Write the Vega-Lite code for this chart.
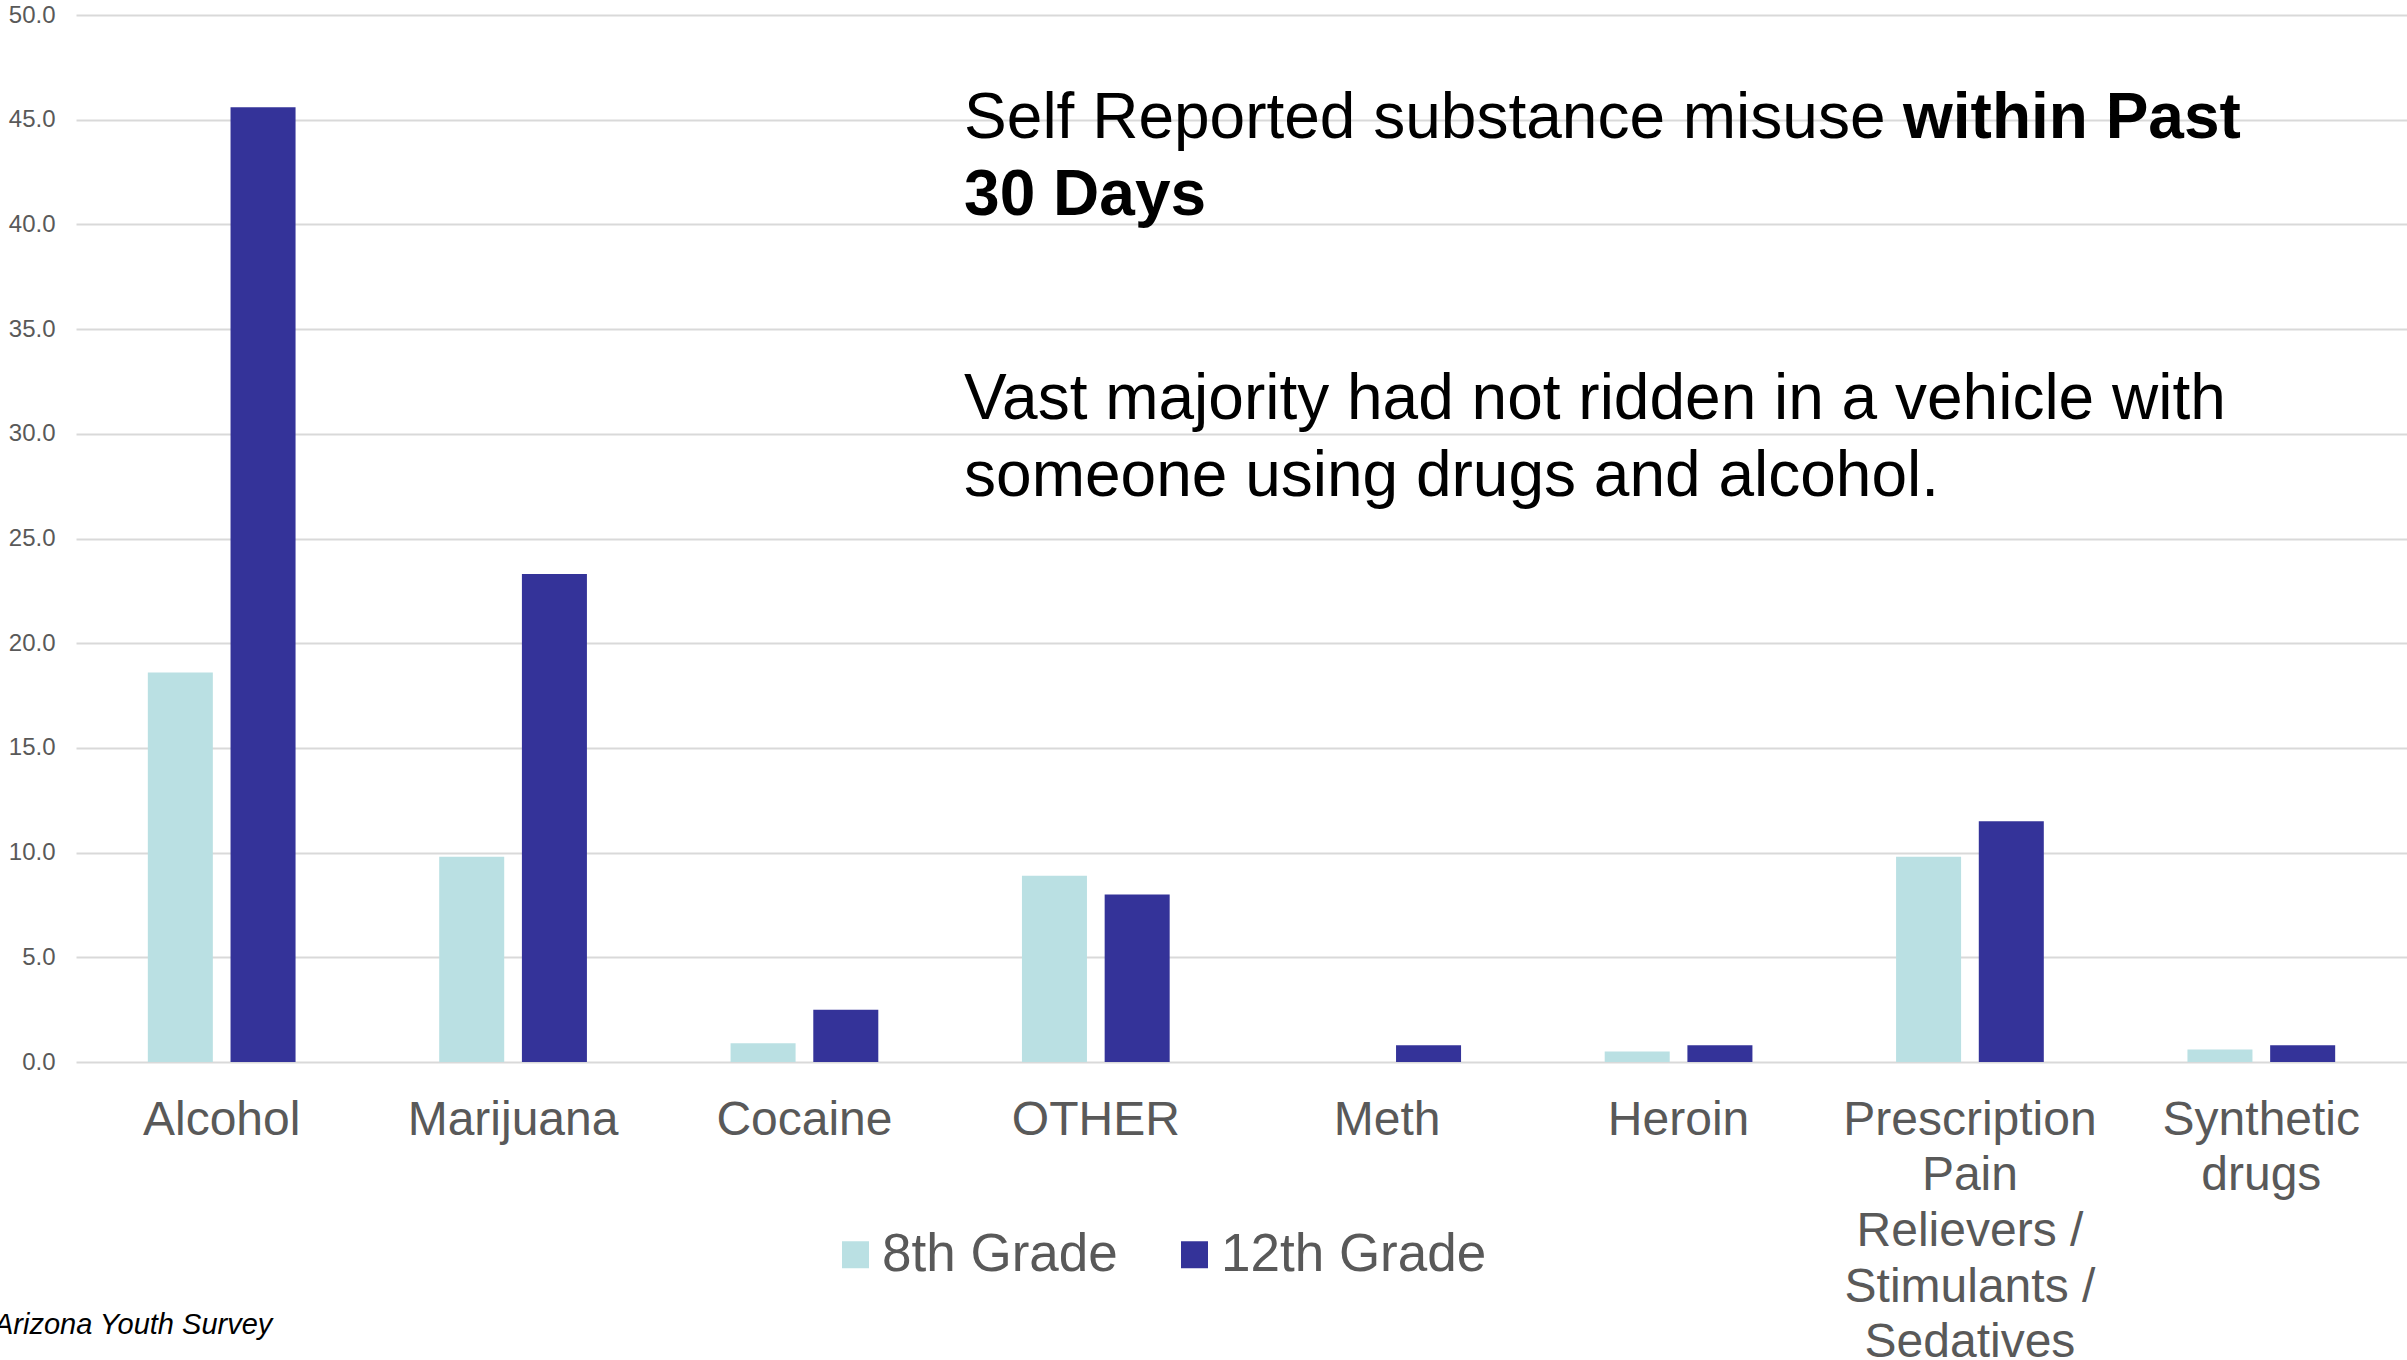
{
  "$schema": "https://vega.github.io/schema/vega-lite/v6.json",
  "autosize": {"type": "none"},
  "padding": {"left": 76, "top": 15, "right": 0, "bottom": 298},
  "width": 2331,
  "height": 1047,
  "background": "white",
  "config": {"font": "Liberation Sans", "view": {"stroke": null}},
  "layer": [
    {
      "data": {
        "values": [
          {"substance": "Alcohol", "grade": "8th Grade", "pct": 18.6},
          {"substance": "Alcohol", "grade": "12th Grade", "pct": 45.6},
          {"substance": "Marijuana", "grade": "8th Grade", "pct": 9.8},
          {"substance": "Marijuana", "grade": "12th Grade", "pct": 23.3},
          {"substance": "Cocaine", "grade": "8th Grade", "pct": 0.9},
          {"substance": "Cocaine", "grade": "12th Grade", "pct": 2.5},
          {"substance": "OTHER", "grade": "8th Grade", "pct": 8.9},
          {"substance": "OTHER", "grade": "12th Grade", "pct": 8.0},
          {"substance": "Meth", "grade": "8th Grade", "pct": 0.0},
          {"substance": "Meth", "grade": "12th Grade", "pct": 0.8},
          {"substance": "Heroin", "grade": "8th Grade", "pct": 0.5},
          {"substance": "Heroin", "grade": "12th Grade", "pct": 0.8},
          {"substance": "Prescription Pain Relievers / Stimulants / Sedatives", "grade": "8th Grade", "pct": 9.8},
          {"substance": "Prescription Pain Relievers / Stimulants / Sedatives", "grade": "12th Grade", "pct": 11.5},
          {"substance": "Synthetic drugs", "grade": "8th Grade", "pct": 0.6},
          {"substance": "Synthetic drugs", "grade": "12th Grade", "pct": 0.8}
        ]
      },
      "mark": {"type": "bar"},
      "encoding": {
        "x": {
          "field": "substance",
          "type": "nominal",
          "sort": ["Alcohol", "Marijuana", "Cocaine", "OTHER", "Meth", "Heroin", "Prescription Pain Relievers / Stimulants / Sedatives", "Synthetic drugs"],
          "scale": {"paddingInner": 0.493, "paddingOuter": 0.2465},
          "axis": {
            "title": null,
            "labelAngle": 0,
            "labelFontSize": 48,
            "labelColor": "#595959",
            "labelPadding": 34,
            "ticks": false,
            "domain": false,
            "labelLimit": 0,
            "labelLineHeight": 55.7,
            "labelBaseline": "top",
            "labelAlign": "center",
            "labelExpr": "datum.value == 'Prescription Pain Relievers / Stimulants / Sedatives' ? ['Prescription', 'Pain', 'Relievers /', 'Stimulants /', 'Sedatives'] : datum.value == 'Synthetic drugs' ? ['Synthetic', 'drugs'] : datum.label"
          }
        },
        "xOffset": {
          "field": "grade",
          "type": "nominal",
          "sort": ["8th Grade", "12th Grade"],
          "scale": {"paddingInner": 0.214, "paddingOuter": 0}
        },
        "y": {
          "field": "pct",
          "type": "quantitative",
          "scale": {"domain": [0, 50], "nice": false},
          "axis": {
            "title": null,
            "values": [0, 5, 10, 15, 20, 25, 30, 35, 40, 45, 50],
            "format": ".1f",
            "labelFontSize": 24,
            "labelColor": "#595959",
            "ticks": false,
            "domain": false,
            "labelPadding": 21,
            "gridColor": "#d9d9d9",
            "gridWidth": 2
          }
        },
        "color": {
          "field": "grade",
          "type": "nominal",
          "sort": ["8th Grade", "12th Grade"],
          "scale": {"domain": ["8th Grade", "12th Grade"], "range": ["#bae0e3", "#343399"]},
          "legend": {
            "title": null,
            "orient": "none",
            "legendX": 753,
            "legendY": 1213,
            "direction": "horizontal",
            "symbolType": "square",
            "symbolSize": 729,
            "symbolStrokeWidth": 0,
            "labelFontSize": 53,
            "labelColor": "#595959",
            "labelOffset": 0,
            "columnPadding": 50,
            "labelLimit": 0,
            "padding": 0
          }
        }
      }
    },
    {
      "data": {"values": [{"note": "Self Reported substance misuse"}]},
      "mark": {"type": "text", "align": "left", "baseline": "alphabetic", "fontSize": 64, "color": "#000000"},
      "encoding": {
        "text": {"field": "note"},
        "x": {"datum": 0.381, "type": "quantitative", "scale": {"domain": [0, 1]}, "axis": null},
        "y": {"datum": 44.13, "type": "quantitative", "scale": {"domain": [0, 50]}, "axis": null}
      }
    },
    {
      "data": {"values": [{"note": "within Past"}]},
      "mark": {"type": "text", "align": "left", "baseline": "alphabetic", "fontSize": 64, "fontWeight": "bold", "color": "#000000"},
      "encoding": {
        "text": {"field": "note"},
        "x": {"datum": 0.7838, "type": "quantitative", "scale": {"domain": [0, 1]}, "axis": null},
        "y": {"datum": 44.13, "type": "quantitative", "scale": {"domain": [0, 50]}, "axis": null}
      }
    },
    {
      "data": {"values": [{"note": "30 Days"}]},
      "mark": {"type": "text", "align": "left", "baseline": "alphabetic", "fontSize": 64, "fontWeight": "bold", "color": "#000000"},
      "encoding": {
        "text": {"field": "note"},
        "x": {"datum": 0.381, "type": "quantitative", "scale": {"domain": [0, 1]}, "axis": null},
        "y": {"datum": 40.47, "type": "quantitative", "scale": {"domain": [0, 50]}, "axis": null}
      }
    },
    {
      "data": {"values": [{"note": "Vast majority had not ridden in a vehicle with"}]},
      "mark": {"type": "text", "align": "left", "baseline": "alphabetic", "fontSize": 64, "color": "#000000"},
      "encoding": {
        "text": {"field": "note"},
        "x": {"datum": 0.381, "type": "quantitative", "scale": {"domain": [0, 1]}, "axis": null},
        "y": {"datum": 30.71, "type": "quantitative", "scale": {"domain": [0, 50]}, "axis": null}
      }
    },
    {
      "data": {"values": [{"note": "someone using drugs and alcohol."}]},
      "mark": {"type": "text", "align": "left", "baseline": "alphabetic", "fontSize": 64, "color": "#000000"},
      "encoding": {
        "text": {"field": "note"},
        "x": {"datum": 0.381, "type": "quantitative", "scale": {"domain": [0, 1]}, "axis": null},
        "y": {"datum": 27.04, "type": "quantitative", "scale": {"domain": [0, 50]}, "axis": null}
      }
    },
    {
      "data": {"values": [{"note": "Arizona Youth Survey"}]},
      "mark": {"type": "text", "align": "left", "baseline": "alphabetic", "fontSize": 29, "fontStyle": "italic", "color": "#000000"},
      "encoding": {
        "text": {"field": "note"},
        "x": {"datum": -0.0352, "type": "quantitative", "scale": {"domain": [0, 1]}, "axis": null},
        "y": {"datum": -13.0, "type": "quantitative", "scale": {"domain": [0, 50]}, "axis": null}
      }
    }
  ],
  "resolve": {"scale": {"x": "independent", "y": "independent", "color": "independent"}}
}
